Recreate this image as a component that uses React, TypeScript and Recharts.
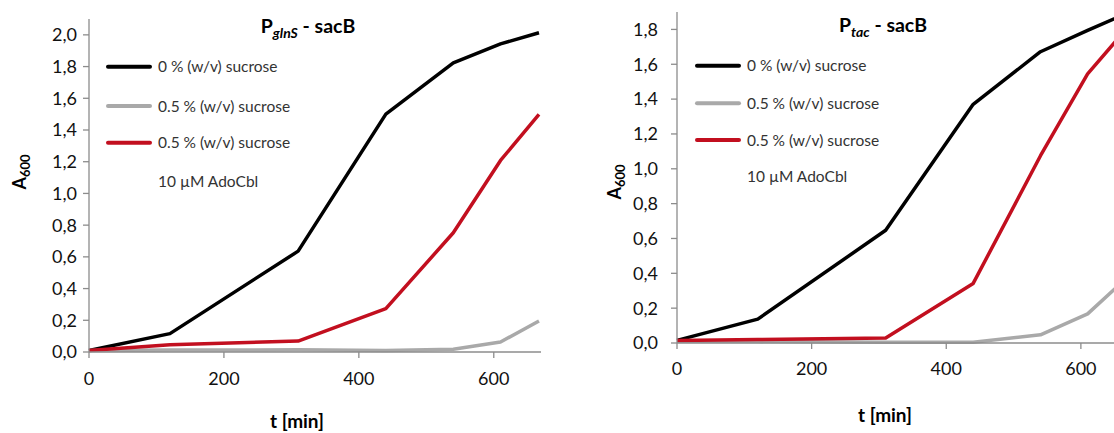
import { Line, LineChart, XAxis, YAxis } from "recharts";

const times = [0, 120, 310, 440, 540, 610, 667];
const timeTicks = [0, 200, 400, 600];

const seriesNames = ["0 % (w/v) sucrose", "0.5 % (w/v) sucrose", "0.5 % (w/v) sucrose"];
const seriesColors = ["#000000", "#a9a9a9", "#c20f1f"];
const noteText = "10 µM AdoCbl";

// P_glnS - sacB
const glnsNoSucrose = [0.01, 0.116, 0.636, 1.5, 1.823, 1.943, 2.013];
const glnsSucrose = [0.01, 0.012, 0.014, 0.01, 0.017, 0.063, 0.195];
const glnsSucroseAdoCbl = [0.01, 0.045, 0.069, 0.273, 0.752, 1.208, 1.498];
const glnsTicks = [0, 0.2, 0.4, 0.6, 0.8, 1.0, 1.2, 1.4, 1.6, 1.8, 2.0];

// P_tac - sacB
const tacNoSucrose = [0.015, 0.137, 0.647, 1.37, 1.672, 1.795, 1.89];
const tacSucrose = [0.01, 0.008, 0.005, 0.004, 0.047, 0.167, 0.37];
const tacSucroseAdoCbl = [0.015, 0.02, 0.029, 0.342, 1.075, 1.545, 1.8];
const tacTicks = [0, 0.2, 0.4, 0.6, 0.8, 1.0, 1.2, 1.4, 1.6, 1.8];

const seriesKeys = ["s0", "s1", "s2"];

function buildRows(a: number[], b: number[], c: number[]) {
  return times.map((t, i) => ({ t, s0: a[i], s1: b[i], s2: c[i] }));
}

const fmt = (v: number) => v.toFixed(1).replace(".", ",");
const axisColor = "#8c8c8c";
const font = "Lato, 'Open Sans', sans-serif";

type PanelProps = {
  rows: Array<Record<string, number>>;
  left: number;
  yMax: number;
  yTicks: number[];
  margin: { top: number; right: number; bottom: number; left: number };
  yAxisWidth: number;
  yTickMargin: number;
  xTickMargin: number;
};

function Panel({ rows, left, yMax, yTicks, margin, yAxisWidth, yTickMargin, xTickMargin }: PanelProps) {
  return (
    <div style={{ position: "absolute", left, top: 0 }}>
      <LineChart width={560} height={433} data={rows} margin={margin}>
        <XAxis
          dataKey="t"
          type="number"
          domain={[0, 670]}
          ticks={timeTicks}
          height={30}
          tickSize={6}
          tickMargin={xTickMargin}
          stroke={axisColor}
          strokeWidth={1.3}
          tick={{ fill: "#111", fontSize: 18, fontFamily: font }}
        />
        <YAxis
          type="number"
          domain={[0, yMax]}
          ticks={yTicks}
          width={yAxisWidth}
          tickSize={6}
          tickMargin={yTickMargin}
          tickFormatter={fmt}
          stroke={axisColor}
          strokeWidth={1.3}
          tick={{ fill: "#111", fontSize: 18, fontFamily: font }}
        />
        {seriesKeys.map((k, i) => (
          <Line
            key={k}
            dataKey={k}
            type="linear"
            stroke={seriesColors[i]}
            strokeWidth={3.5}
            strokeLinejoin="round"
            dot={false}
            activeDot={false}
            isAnimationActive={false}
          />
        ))}
      </LineChart>
    </div>
  );
}

function LegendBlock({ x, rowsY, noteY }: { x: number; rowsY: number[]; noteY: number }) {
  return (
    <g fontFamily={font} fontSize={15.5} fill="#333">
      {seriesNames.map((name, i) => (
        <g key={i}>
          <line x1={x} x2={x + 42} y1={rowsY[i]} y2={rowsY[i]} stroke={seriesColors[i]} strokeWidth={4} strokeLinecap="round" />
          <text x={x + 50} y={rowsY[i] + 5.5}>{name}</text>
        </g>
      ))}
      <text x={x + 50} y={noteY + 5.5}>{noteText}</text>
    </g>
  );
}

function Title({ x, y, sub }: { x: number; y: number; sub: string }) {
  return (
    <text x={x} y={y} textAnchor="middle" fontFamily={font} fontWeight="bold" fontSize={19.5} fill="#000">
      P
      <tspan fontSize={14} fontStyle="italic" dy={5}>{sub}</tspan>
      <tspan dy={-5}> - sacB</tspan>
    </text>
  );
}

function YLabel({ x, y }: { x: number; y: number }) {
  return (
    <text x={x} y={y} transform={`rotate(-90, ${x}, ${y})`} textAnchor="middle" fontFamily={font} fontWeight="bold" fontSize={18} fill="#000">
      A<tspan fontSize={13} dy={4}>600</tspan>
    </text>
  );
}

export default function App() {
  const glnsRows = buildRows(glnsNoSucrose, glnsSucrose, glnsSucroseAdoCbl);
  const tacRows = buildRows(tacNoSucrose, tacSucrose, tacSucroseAdoCbl);

  return (
    <div style={{ position: "fixed", left: 0, top: 0, width: 1114, height: 433, overflow: "hidden", background: "#fff" }}>
      <Panel
        rows={glnsRows}
        left={0}
        yMax={2.1}
        yTicks={glnsTicks}
        margin={{ top: 19, right: 19, bottom: 51, left: 0 }}
        yAxisWidth={89}
        yTickMargin={6}
        xTickMargin={14}
      />
      <Panel
        rows={tacRows}
        left={590}
        yMax={1.9}
        yTicks={tacTicks}
        margin={{ top: 12, right: 22, bottom: 60, left: 0 }}
        yAxisWidth={87}
        yTickMargin={13}
        xTickMargin={13}
      />
      <svg width={1114} height={433} style={{ position: "absolute", left: 0, top: 0, pointerEvents: "none" }}>
        <Title x={308} y={33} sub="glnS" />
        <Title x={883} y={32} sub="tac" />
        <LegendBlock x={108} rowsY={[66.7, 106, 142.7]} noteY={181.7} />
        <LegendBlock x={697} rowsY={[65.7, 103.3, 140]} noteY={176.7} />
        <YLabel x={26} y={172} />
        <YLabel x={621} y={182} />
        <text x={297} y={428} textAnchor="middle" fontFamily={font} fontWeight="bold" fontSize={19} fill="#000">t [min]</text>
        <text x={885} y={422} textAnchor="middle" fontFamily={font} fontWeight="bold" fontSize={19} fill="#000">t [min]</text>
      </svg>
    </div>
  );
}
